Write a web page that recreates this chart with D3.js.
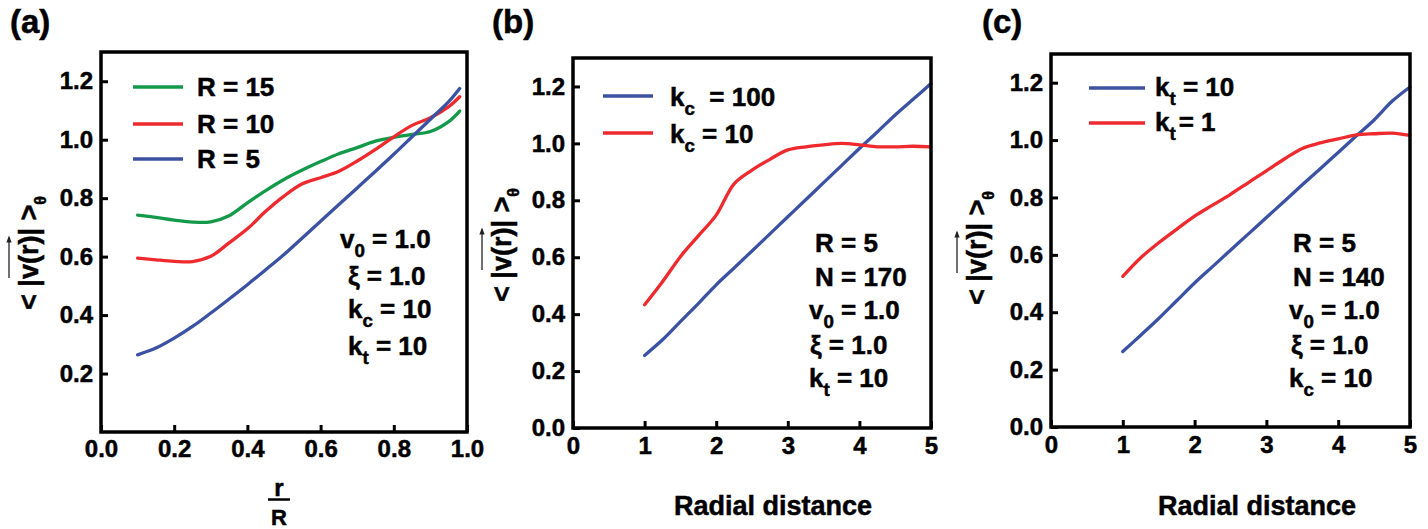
<!DOCTYPE html>
<html><head><meta charset="utf-8">
<script src="https://cdn.jsdelivr.net/npm/d3@7"></script>
<style>
body{margin:0;background:#fff}
svg text{font-family:"Liberation Sans",Arial,sans-serif;font-weight:bold;fill:#000;stroke:#000;stroke-width:0.5px}
</style></head><body>
<svg id="fig" width="1428" height="529"></svg>
<script>
// (a) angular-averaged speed against normalised radius r/R
const rNorm = [0.10,0.15,0.20,0.25,0.30,0.35,0.40,0.45,0.50,0.55,0.60,0.65,0.70,0.75,0.80,0.85,0.90,0.95,0.98];
const vR15 = [0.742,0.734,0.725,0.718,0.719,0.740,0.784,0.826,0.864,0.896,0.925,0.952,0.973,0.995,1.008,1.018,1.028,1.062,1.098];
const vR10 = [0.595,0.589,0.584,0.583,0.601,0.647,0.695,0.755,0.807,0.849,0.870,0.892,0.927,0.967,1.010,1.049,1.075,1.113,1.147];
const vR5  = [0.264,0.287,0.321,0.361,0.407,0.455,0.504,0.555,0.607,0.664,0.721,0.778,0.835,0.892,0.950,1.010,1.070,1.130,1.175];

// (b), (c) speed against radial distance
const radial = [1,1.25,1.5,1.75,2,2.25,2.5,2.75,3,3.25,3.5,3.75,4,4.25,4.5,4.75,5];
const vKc100 = [0.255,0.310,0.374,0.437,0.503,0.562,0.622,0.682,0.742,0.802,0.862,0.922,0.982,1.040,1.100,1.155,1.210];
const vKc10  = [0.433,0.514,0.602,0.675,0.748,0.858,0.906,0.944,0.977,0.988,0.995,1.000,0.995,0.988,0.988,0.990,0.988];
const vKt10  = [0.263,0.320,0.378,0.440,0.502,0.559,0.616,0.673,0.730,0.787,0.844,0.900,0.957,1.014,1.070,1.135,1.185];
const vKt1   = [0.525,0.590,0.642,0.689,0.735,0.773,0.811,0.852,0.893,0.934,0.971,0.990,1.004,1.018,1.022,1.024,1.016];

// tick values
const ticksAx = [0,0.2,0.4,0.6,0.8,1.0];
const ticksAy = [0.2,0.4,0.6,0.8,1.0,1.2];
const ticksBCx = [0,1,2,3,4,5];
const ticksBCy = [0,0.2,0.4,0.6,0.8,1.0,1.2];

const GREEN = "#13994a", RED = "#ee2a2e", BLUE = "#3b52a3";
const svg = d3.select("#fig");

function richText(g, x, y, size, parts, dx) {
  // parts: [main, subscript, rest]
  const t = g.append("text").attr("x", x).attr("y", y).attr("font-size", size)
    .attr("xml:space", "preserve").style("white-space", "pre");
  t.append("tspan").text(parts[0]);
  const sh = size * 0.33;
  if (parts[1]) t.append("tspan").attr("font-size", size * 0.72).attr("dy", sh).text(parts[1]);
  t.append("tspan").attr("dy", parts[1] ? -sh : 0).attr("dx", dx || 0).text(parts[2]);
  return t;
}

function yLabel(g, bx, cy) {
  const grp = g.append("g").attr("transform", `translate(${bx},${cy}) rotate(-90)`);
  const t = grp.append("text").attr("text-anchor", "middle").attr("font-size", 27)
    .attr("xml:space", "preserve").style("white-space", "pre");
  t.append("tspan").text("< |v(r)| >");
  t.append("tspan").attr("font-size", 16).attr("dy", 8).text("θ");
  const n = t.node();
  const x0 = n.getStartPositionOfChar(3).x + 1;
  const x1 = n.getEndPositionOfChar(6).x;
  const ay = -29;
  grp.append("line").attr("x1", x0).attr("x2", x1 - 2).attr("y1", ay).attr("y2", ay)
    .attr("stroke", "#222").attr("stroke-width", 1.3);
  grp.append("path").attr("d", `M${x1},${ay} L${x1 - 7},${ay - 2.6} L${x1 - 7},${ay + 2.6} Z`).attr("fill", "#222");
}

function panel(cfg) {
  const g = svg.append("g");
  const x = d3.scaleLinear().domain(cfg.xDomain).range([cfg.left, cfg.right]);
  const y = d3.scaleLinear().domain([0, 1.3]).range([cfg.bottom, cfg.top]);
  const line = d3.line().x(d => x(d[0])).y(d => y(d[1])).curve(d3.curveCatmullRom.alpha(0.5));

  cfg.series.forEach(s => {
    g.append("path").datum(s.xs.map((v, i) => [v, s.ys[i]]))
      .attr("d", line).attr("fill", "none").attr("stroke", s.color)
      .attr("stroke-width", 3.3).attr("stroke-linejoin", "round").attr("stroke-linecap", "round");
  });

  const ax = g.append("g").attr("transform", `translate(0,${cfg.bottom})`)
    .call(d3.axisBottom(x).tickValues(cfg.xTicks).tickFormat(cfg.xFmt).tickSize(-7).tickPadding(cfg.xPad));
  const ay = g.append("g").attr("transform", `translate(${cfg.left},0)`)
    .call(d3.axisLeft(y).tickValues(cfg.yTicks).tickFormat(d3.format(".1f")).tickSize(-7).tickPadding(8));
  [ax, ay].forEach(a => {
    a.attr("font-family", null);
    a.select(".domain").remove();
    a.selectAll(".tick line").attr("stroke", "#000").attr("stroke-width", 3);
    a.selectAll(".tick text").attr("font-size", 24);
  });

  g.append("rect").attr("x", cfg.left).attr("y", cfg.top)
    .attr("width", cfg.right - cfg.left).attr("height", cfg.bottom - cfg.top)
    .attr("fill", "none").attr("stroke", "#000").attr("stroke-width", 3.5);

  // legend
  cfg.legend.forEach((L, i) => {
    g.append("line").attr("x1", cfg.legX0).attr("x2", cfg.legX1)
      .attr("y1", cfg.legY[i]).attr("y2", cfg.legY[i])
      .attr("stroke", L.color).attr("stroke-width", 3.5);
    richText(g, cfg.legTX, cfg.legTY[i], 26, L.parts, L.dx);
  });

  // parameter notes
  cfg.notes.forEach(nt => richText(g, nt.x, nt.y, 26, nt.parts));

  // panel tag
  g.append("text").attr("x", cfg.tagX).attr("y", 33).attr("font-size", 33).text(cfg.tag);

  yLabel(g, cfg.ylx, cfg.yly);
  return g;
}

// (a)
const ga = panel({
  xDomain: [0, 1], left: 101, right: 467, top: 52, bottom: 432,
  xTicks: ticksAx, yTicks: ticksAy, xFmt: d3.format(".1f"), xPad: 8,
  series: [
    {xs: rNorm, ys: vR15, color: GREEN},
    {xs: rNorm, ys: vR10, color: RED},
    {xs: rNorm, ys: vR5, color: BLUE}
  ],
  legX0: 133, legX1: 183, legY: [87, 124, 159], legTX: 197, legTY: [96, 133, 168],
  legend: [
    {color: GREEN, parts: ["R = 15", "", ""]},
    {color: RED, parts: ["R = 10", "", ""]},
    {color: BLUE, parts: ["R = 5", "", ""]}
  ],
  notes: [
    {x: 340, y: 248, parts: ["v", "0", " = 1.0"]},
    {x: 348, y: 285, parts: ["ξ", "", " = 1.0"]},
    {x: 348, y: 318, parts: ["k", "c", " = 10"]},
    {x: 348, y: 355, parts: ["k", "t", " = 10"]}
  ],
  tag: "(a)", tagX: 10, ylx: 38, yly: 253
});
ga.append("text").attr("x", 279).attr("y", 496).attr("text-anchor", "middle").attr("font-size", 24).text("r");
ga.append("line").attr("x1", 268).attr("x2", 290).attr("y1", 499.5).attr("y2", 499.5)
  .attr("stroke", "#000").attr("stroke-width", 2.5);
ga.append("text").attr("x", 279).attr("y", 525).attr("text-anchor", "middle").attr("font-size", 22).text("R");

// (b)
const gb = panel({
  xDomain: [0, 5], left: 573, right: 931, top: 58, bottom: 428,
  xTicks: ticksBCx, yTicks: ticksBCy, xFmt: d3.format("d"), xPad: 9,
  series: [
    {xs: radial, ys: vKc100, color: BLUE},
    {xs: radial, ys: vKc10, color: RED}
  ],
  legX0: 603, legX1: 653, legY: [96, 133], legTX: 670, legTY: [106, 143],
  legend: [
    {color: BLUE, parts: ["k", "c", "  = 100"]},
    {color: RED, parts: ["k", "c", " = 10"]}
  ],
  notes: [
    {x: 815, y: 252, parts: ["R = 5", "", ""]},
    {x: 815, y: 286, parts: ["N = 170", "", ""]},
    {x: 809, y: 319, parts: ["v", "0", " = 1.0"]},
    {x: 810, y: 354, parts: ["ξ", "", " = 1.0"]},
    {x: 809, y: 387, parts: ["k", "t", " = 10"]}
  ],
  tag: "(b)", tagX: 492, ylx: 511, yly: 245
});
gb.append("text").attr("x", 773).attr("y", 515).attr("text-anchor", "middle").attr("font-size", 27).text("Radial distance");

// (c)
const gc = panel({
  xDomain: [0, 5], left: 1051, right: 1410, top: 54, bottom: 427,
  xTicks: ticksBCx, yTicks: ticksBCy, xFmt: d3.format("d"), xPad: 9,
  series: [
    {xs: radial, ys: vKt10, color: BLUE},
    {xs: radial, ys: vKt1, color: RED}
  ],
  legX0: 1089, legX1: 1145, legY: [88, 123], legTX: 1155, legTY: [96, 131],
  legend: [
    {color: BLUE, parts: ["k", "t", " = 10"]},
    {color: RED, parts: ["k", "t", "= 1"], dx: 3}
  ],
  notes: [
    {x: 1293, y: 252, parts: ["R = 5", "", ""]},
    {x: 1293, y: 286, parts: ["N = 140", "", ""]},
    {x: 1289, y: 319, parts: ["v", "0", " = 1.0"]},
    {x: 1291, y: 354, parts: ["ξ", "", " = 1.0"]},
    {x: 1289, y: 387, parts: ["k", "c", " = 10"]}
  ],
  tag: "(c)", tagX: 982, ylx: 986, yly: 248
});
gc.append("text").attr("x", 1257).attr("y", 515).attr("text-anchor", "middle").attr("font-size", 27).text("Radial distance");
</script>
</body></html>
